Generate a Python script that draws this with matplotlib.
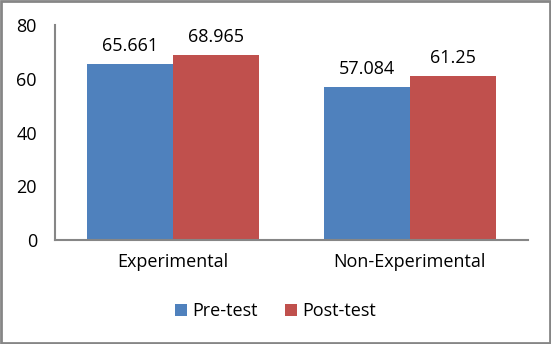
import matplotlib.pyplot as plt
import numpy as np

plt.rcParams['font.family'] = ['Open Sans', 'DejaVu Sans']

categories = ['Experimental', 'Non-Experimental']
pre_test = [65.661, 57.084]
post_test = [68.965, 61.25]
value_labels_pre = ['65.661', '57.084']
value_labels_post = ['68.965', '61.25']

fig = plt.figure(figsize=(5.51, 3.44), dpi=100)
ax = fig.add_axes([0.0998, 0.302, 0.858, 0.625])

x = np.arange(len(categories))
w = 0.364
b1 = ax.bar(x - w / 2, pre_test, w, color='#4F81BD', label='Pre-test')
b2 = ax.bar(x + w / 2, post_test, w, color='#C0504D', label='Post-test')

for bars, labels in ((b1, value_labels_pre), (b2, value_labels_post)):
    for rect, lab in zip(bars, labels):
        ax.annotate(lab, (rect.get_x() + rect.get_width() / 2, rect.get_height()),
                    xytext=(0, 6), textcoords='offset points',
                    ha='center', va='bottom', fontsize=13, color='black')

ax.set_xlim(-0.5, 1.5)
ax.set_ylim(0, 80)
ax.set_yticks([0, 20, 40, 60, 80])
ax.set_xticks(x)
ax.set_xticklabels(categories)
ax.tick_params(axis='both', length=0, labelsize=13, colors='black')
ax.tick_params(axis='y', pad=13)
ax.tick_params(axis='x', pad=9)
for s in ('top', 'right'):
    ax.spines[s].set_visible(False)
for s in ('left', 'bottom'):
    ax.spines[s].set_color('#868686')
    ax.spines[s].set_linewidth(1.5)

fig.legend(handles=[b1, b2], loc='center', bbox_to_anchor=(0.5, 0.095), ncol=2,
           frameon=False, fontsize=13, handlelength=0.65, handleheight=0.65,
           handletextpad=0.3, columnspacing=1.5)

fig.patches.append(plt.Rectangle((0.002, 0.003), 0.996, 0.994, transform=fig.transFigure,
                                 fill=False, edgecolor='#868686', linewidth=2))

fig.savefig('out.png', dpi=100)
